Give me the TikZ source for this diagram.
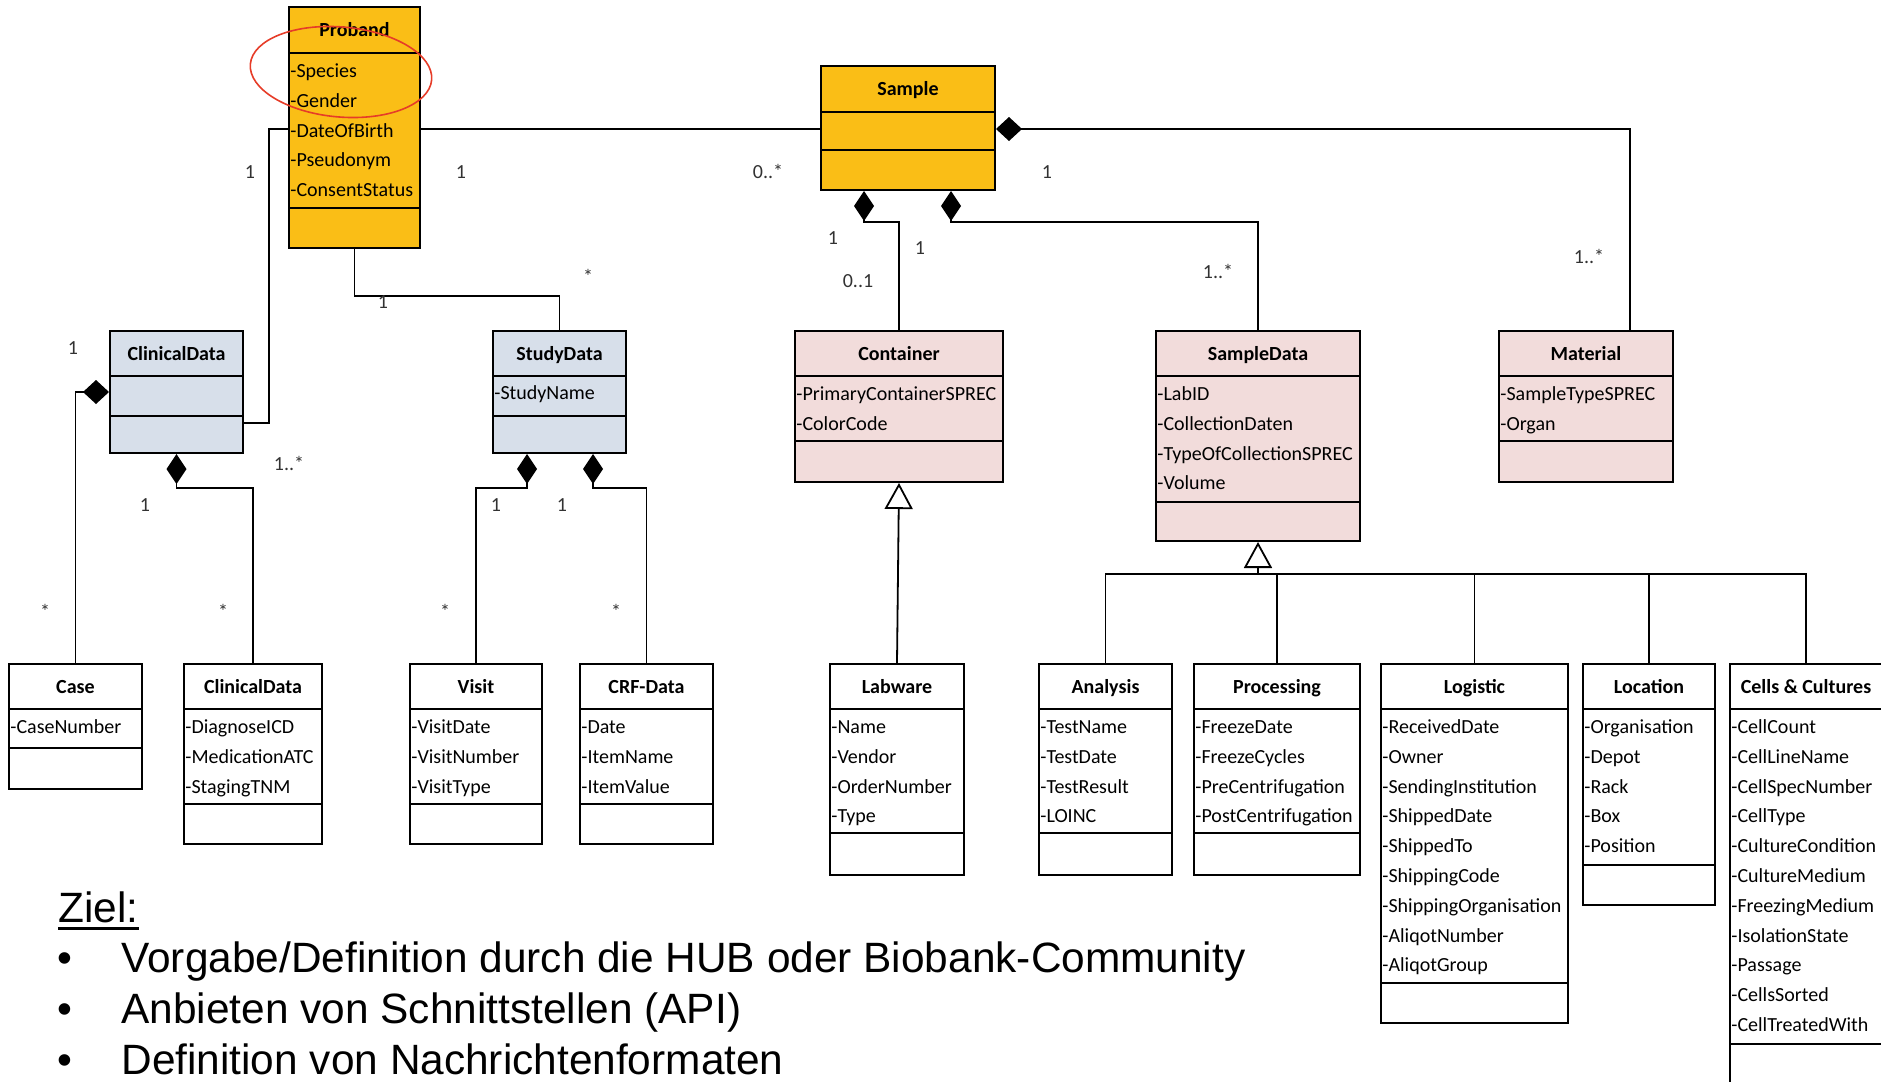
\documentclass[tikz,border=0pt]{standalone}
\usepackage{fontspec}
\setmainfont{Carlito}
\newfontfamily\slidefont{Liberation Sans}
\usetikzlibrary{arrows.meta,fit,shapes.geometric}

\definecolor{probandgold}{RGB}{250,190,22}
\definecolor{clinblue}{RGB}{215,223,234}
\definecolor{samplepink}{RGB}{242,220,219}
\definecolor{multgray}{RGB}{50,50,50}
\definecolor{ellred}{RGB}{230,60,40}

\tikzset{
  classbox/.style={draw, line width=1pt, inner sep=0pt},
  classtitle/.style={font=\bfseries\fontsize{10}{12}\selectfont, inner sep=0pt, text height=6.5pt, text depth=0pt},
  attr/.style={anchor=west, font=\fontsize{10}{12}\selectfont, inner sep=0pt, text height=6.5pt, text depth=0pt},
  mult/.style={font=\fontsize{10}{12}\selectfont, text=multgray, inner sep=0pt, text height=6.5pt, text depth=0pt},
  link/.style={line width=0.9pt},
  comph/.style={link, -{Diamond[length=13pt, width=12pt]}},
  compv/.style={link, -{Diamond[length=15pt, width=10pt]}},
  gen/.style={link, -{Triangle[open, fill=white, length=13pt, width=14pt]}},
  slide/.style={font=\slidefont\fontsize{21.2}{25}\selectfont, inner sep=0pt, anchor=base west},
}

% class box: name, fill, x1, y1, x2, y2, dividers, title
\newcommand{\umlclass}[9]{
  \node[classbox, fill=#2, fit={(#3,#4) (#5,#6)}] (#1) {};
  \draw[line width=1pt] (#3,#7) -- (#5,#7) (#3,#8) -- (#5,#8);
  \node[classtitle] (#1-title) at ({(#3+#5)/2},{(#4+#7)/2}) {#9};
}
% attributes: name, left x, first line, list
\newcommand{\umlattrs}[4]{
  \foreach \a [count=\i] in {#4}
    \node[attr] (#1-a\i) at (#2+1,{#3+(\i-1)*29.8}) {-\a};
}

\begin{document}
\begin{tikzpicture}[x=0.5pt, y=-0.5pt]
  \clip (0,0) rectangle (1881,1082);

  % top level
  \umlclass{proband}{probandgold}{289}{7}{420}{248}{53}{208}{Proband}
  \umlattrs{proband}{289}{71}{Species,Gender,DateOfBirth,Pseudonym,ConsentStatus}
  \umlclass{sample}{probandgold}{821}{66}{995}{190}{112}{150}{Sample}

  % second level
  \umlclass{clinical}{clinblue}{110}{331}{243}{453}{376}{416}{ClinicalData}
  \umlclass{study}{clinblue}{493}{331}{626}{453}{376}{416}{StudyData}
  \umlattrs{study}{493}{393}{StudyName}
  \umlclass{container}{samplepink}{795}{331}{1003}{482}{376}{441}{Container}
  \umlattrs{container}{795}{394}{PrimaryContainerSPREC,ColorCode}
  \umlclass{sampledata}{samplepink}{1156}{331}{1360}{541}{376}{502}{SampleData}
  \umlattrs{sampledata}{1156}{394}{LabID,CollectionDaten,TypeOfCollectionSPREC,Volume}
  \umlclass{material}{samplepink}{1499}{331}{1673}{482}{376}{441}{Material}
  \umlattrs{material}{1499}{394}{SampleTypeSPREC,Organ}

  % third level
  \umlclass{case}{white}{9}{664}{142}{789}{709}{748}{Case}
  \umlattrs{case}{9}{727}{CaseNumber}
  \umlclass{clinicaldet}{white}{184}{664}{322}{844}{709}{804}{ClinicalData}
  \umlattrs{clinicaldet}{184}{727}{DiagnoseICD,MedicationATC,StagingTNM}
  \umlclass{visit}{white}{410}{664}{542}{844}{709}{804}{Visit}
  \umlattrs{visit}{410}{727}{VisitDate,VisitNumber,VisitType}
  \umlclass{crf}{white}{580}{664}{713}{844}{709}{804}{CRF-Data}
  \umlattrs{crf}{580}{727}{Date,ItemName,ItemValue}
  \umlclass{labware}{white}{830}{664}{964}{875}{709}{833}{Labware}
  \umlattrs{labware}{830}{727}{Name,Vendor,OrderNumber,Type}
  \umlclass{analysis}{white}{1039}{664}{1172}{875}{709}{833}{Analysis}
  \umlattrs{analysis}{1039}{727}{TestName,TestDate,TestResult,LOINC}
  \umlclass{processing}{white}{1194}{664}{1360}{875}{709}{833}{Processing}
  \umlattrs{processing}{1194}{727}{FreezeDate,FreezeCycles,PreCentrifugation,PostCentrifugation}
  \umlclass{logistic}{white}{1381}{664}{1568}{1023}{709}{983}{Logistic}
  \umlattrs{logistic}{1381}{727}{ReceivedDate,Owner,SendingInstitution,ShippedDate,ShippedTo,ShippingCode,ShippingOrganisation,AliqotNumber,AliqotGroup}
  \umlclass{location}{white}{1583}{664}{1715}{905}{709}{865}{Location}
  \umlattrs{location}{1583}{727}{Organisation,Depot,Rack,Box,Position}
  \umlclass{cells}{white}{1730}{664}{1882}{1100}{709}{1044}{Cells \& Cultures}
  \umlattrs{cells}{1730}{727}{CellCount,CellLineName,CellSpecNumber,CellType,CultureCondition,CultureMedium,FreezingMedium,IsolationState,Passage,CellsSorted,CellTreatedWith}

  % connectors
  \coordinate (p1) at (0,129);
  \coordinate (m1) at (1630,0);
  \coordinate (cd1) at (269,423);
  \coordinate (sd1) at (0,296);
  \coordinate (sc1) at (864,222);
  \coordinate (ss1) at (951,222);
  \coordinate (cc1) at (0,392);
  \coordinate (cd2) at (0,488);
  \coordinate (sv1) at (527,488);
  \coordinate (sv2) at (593,488);
  \coordinate (bus) at (0,574);
  \draw[link] (proband.east |- p1) -- (sample.west |- p1);
  \draw[link] (proband.west |- p1) -| (cd1) -- (clinical.east |- cd1);
  \draw[link] (proband.south) |- (study.north |- sd1) -- (study.north);
  \draw[comph] (material.north -| m1) |- (sample.east |- p1);
  \draw[compv] (container.north) |- (sc1) -- (sample.south -| sc1);
  \draw[compv] (sampledata.north) |- (ss1) -- (sample.south -| ss1);
  \draw[comph] (case.north) |- (clinical.west |- cc1);
  \draw[compv] (clinicaldet.north) |- (clinical.south |- cd2) -- (clinical.south);
  \draw[compv] (visit.north) |- (sv1) -- (study.south -| sv1);
  \draw[compv] (crf.north) |- (sv2) -- (study.south -| sv2);
  \draw[gen] (labware.north) -- (container.south);
  \draw[gen] (sampledata.south |- bus) -- (sampledata.south);
  \foreach \c in {analysis,processing,logistic,location,cells}
    \draw[link] (\c.north) |- (sampledata.south |- bus);

  % multiplicities
  \foreach \x/\y/\t [count=\i] in {250/172/1, 461/172/1, 768/172/0..*, 1047/172/1,
      1589/257/1..*, 833/238/1, 920/248/1, 858/281/0..1, 1218/272/1..*, 383/302/1,
      588/277/*, 73/348/1, 289/464/1..*, 145/505/1, 45/612/*, 223/612/*,
      496/505/1, 562/505/1, 445/612/*, 616/612/*}
    \node[mult] (mult\i) at (\x,\y) {\t};

  \node[draw=ellred, line width=0.8pt, ellipse, minimum width=91pt, minimum height=45pt,
    inner sep=0pt, rotate=-5] (focus) at (341,72) {};

  % goals
  \node[slide] (ziel) at (58,922) {Ziel:};
  \draw[line width=1.4pt] ([yshift=-3.2pt]ziel.base west) -- ([yshift=-3.2pt]ziel.base east);
  \foreach \t [count=\i] in {{Vorgabe/Definition durch die HUB oder Biobank-Community},
      {Anbieten von Schnittstellen (API)}, {Definition von Nachrichtenformaten}} {
    \node[slide, anchor=base] (dot\i) at (65,{972+(\i-1)*51}) {\textbullet};
    \node[slide] (goal\i) at (121,{972+(\i-1)*51}) {\t};
  }
\end{tikzpicture}
\end{document}
